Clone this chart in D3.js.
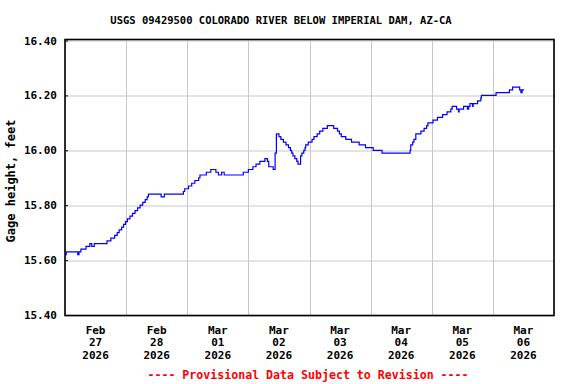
<!DOCTYPE html>
<html>
<head>
<meta charset="utf-8">
<script src="https://cdn.jsdelivr.net/npm/d3@7"></script>
<style>
  body { margin: 0; background: #fff; }
  svg text { font-family: "DejaVu Sans Mono", monospace; font-weight: bold; }
</style>
</head>
<body>
<svg width="576" height="384"></svg>
<script>
var title = "USGS 09429500 COLORADO RIVER BELOW IMPERIAL DAM, AZ-CA";
var yLabel = "Gage height, feet";
var footer = "---- Provisional Data Subject to Revision ----";

var yTicks = [15.40, 15.60, 15.80, 16.00, 16.20, 16.40];
var dayTicks = ["2026-02-27", "2026-02-28", "2026-03-01", "2026-03-02",
                "2026-03-03", "2026-03-04", "2026-03-05", "2026-03-06", "2026-03-07"];

// 15-min gage readings, only the times where the value changes
var times = [
  "2026-02-27 00:00", "2026-02-27 00:30", "2026-02-27 05:00", "2026-02-27 05:30", "2026-02-27 06:15",
  "2026-02-27 08:15", "2026-02-27 09:45", "2026-02-27 10:30", "2026-02-27 11:30", "2026-02-27 16:30",
  "2026-02-27 18:00", "2026-02-27 19:30", "2026-02-27 20:30", "2026-02-27 21:15", "2026-02-27 22:15",
  "2026-02-27 23:00", "2026-02-27 23:45",
  "2026-02-28 00:30", "2026-02-28 01:30", "2026-02-28 02:30", "2026-02-28 03:30", "2026-02-28 04:30",
  "2026-02-28 05:30", "2026-02-28 06:30", "2026-02-28 07:30", "2026-02-28 08:15", "2026-02-28 08:45",
  "2026-02-28 13:45", "2026-02-28 15:00", "2026-02-28 22:30", "2026-02-28 23:00",
  "2026-03-01 00:30", "2026-03-01 01:45", "2026-03-01 03:00", "2026-03-01 04:30", "2026-03-01 05:00",
  "2026-03-01 07:30", "2026-03-01 09:15", "2026-03-01 11:15", "2026-03-01 12:15", "2026-03-01 13:30",
  "2026-03-01 14:30", "2026-03-01 22:00",
  "2026-03-02 00:00", "2026-03-02 01:45", "2026-03-02 03:00", "2026-03-02 04:30", "2026-03-02 06:30",
  "2026-03-02 07:30", "2026-03-02 08:00", "2026-03-02 09:45", "2026-03-02 10:30", "2026-03-02 11:00",
  "2026-03-02 12:00", "2026-03-02 12:45", "2026-03-02 13:45", "2026-03-02 14:45", "2026-03-02 15:45",
  "2026-03-02 16:30", "2026-03-02 17:00", "2026-03-02 17:30", "2026-03-02 18:15", "2026-03-02 19:00",
  "2026-03-02 19:30", "2026-03-02 20:30", "2026-03-02 21:00", "2026-03-02 21:45", "2026-03-02 22:15",
  "2026-03-02 22:30", "2026-03-02 23:30",
  "2026-03-03 01:00", "2026-03-03 01:45", "2026-03-03 03:00", "2026-03-03 04:00", "2026-03-03 05:15",
  "2026-03-03 07:00", "2026-03-03 09:30", "2026-03-03 11:00", "2026-03-03 11:45", "2026-03-03 12:30",
  "2026-03-03 14:15", "2026-03-03 16:30", "2026-03-03 19:30", "2026-03-03 22:00",
  "2026-03-04 01:00", "2026-03-04 04:30", "2026-03-04 15:30", "2026-03-04 15:45", "2026-03-04 16:30",
  "2026-03-04 17:00", "2026-03-04 17:45", "2026-03-04 19:45", "2026-03-04 21:00", "2026-03-04 22:00",
  "2026-03-04 22:30",
  "2026-03-05 00:30", "2026-03-05 02:15", "2026-03-05 04:15", "2026-03-05 06:00", "2026-03-05 07:30",
  "2026-03-05 08:00", "2026-03-05 09:45", "2026-03-05 10:30", "2026-03-05 10:45", "2026-03-05 12:30",
  "2026-03-05 14:00", "2026-03-05 14:30", "2026-03-05 15:00", "2026-03-05 16:00", "2026-03-05 16:15",
  "2026-03-05 18:00", "2026-03-05 19:15", "2026-03-05 19:30",
  "2026-03-06 01:15", "2026-03-06 06:30", "2026-03-06 07:45", "2026-03-06 10:30", "2026-03-06 11:00",
  "2026-03-06 11:30", "2026-03-06 12:15"
];
var heights = [
  15.62, 15.63, 15.62, 15.63, 15.64,
  15.65, 15.66, 15.65, 15.66, 15.67,
  15.68, 15.69, 15.70, 15.71, 15.72,
  15.73, 15.74,
  15.75, 15.76, 15.77, 15.78, 15.79,
  15.80, 15.81, 15.82, 15.83, 15.84,
  15.83, 15.84, 15.85, 15.86,
  15.87, 15.88, 15.89, 15.90, 15.91,
  15.92, 15.93, 15.92, 15.91, 15.92,
  15.91, 15.92,
  15.93, 15.94, 15.95, 15.96, 15.97,
  15.96, 15.94, 15.93, 15.99, 16.06,
  16.05, 16.04, 16.03, 16.02, 16.01,
  16.00, 15.99, 15.98, 15.97, 15.96,
  15.95, 15.98, 15.99, 16.00, 16.01,
  16.02, 16.03,
  16.04, 16.05, 16.06, 16.07, 16.08,
  16.09, 16.08, 16.07, 16.06, 16.05,
  16.04, 16.03, 16.02, 16.01,
  16.00, 15.99, 16.00, 16.02, 16.03,
  16.04, 16.06, 16.07, 16.08, 16.09,
  16.10,
  16.11, 16.12, 16.13, 16.14, 16.15,
  16.16, 16.15, 16.14, 16.15, 16.16,
  16.15, 16.16, 16.17, 16.16, 16.17,
  16.18, 16.19, 16.20,
  16.21, 16.22, 16.23, 16.22, 16.21,
  16.22, 16.22
];

var svg = d3.select("svg"),
    margin = {top: 40.5, right: 22, bottom: 69, left: 65},
    width = svg.attr("width") - margin.left - margin.right,
    height = svg.attr("height") - margin.top - margin.bottom,
    g = svg.append("g").attr("transform", "translate(" + margin.left + "," + margin.top + ")");

var parseTime = d3.timeParse("%Y-%m-%d %H:%M"),
    parseDay = d3.timeParse("%Y-%m-%d");

var data = times.map(function(t, i) { return {date: parseTime(t), value: heights[i]}; });
var days = dayTicks.map(parseDay);

var x = d3.scaleTime().domain([days[0], days[days.length - 1]]).range([0, width]),
    y = d3.scaleLinear().domain([15.4, 16.4]).range([height, 0]);

// grid
g.append("g")
    .selectAll("line")
    .data(days)
    .enter().append("line")
    .attr("x1", function(d) { return Math.round(x(d)) + 0.5; })
    .attr("x2", function(d) { return Math.round(x(d)) + 0.5; })
    .attr("y1", 0)
    .attr("y2", height)
    .attr("stroke", "#c8c8c8");

g.append("g")
    .selectAll("line")
    .data(yTicks)
    .enter().append("line")
    .attr("x1", 0)
    .attr("x2", width)
    .attr("y1", function(d) { return Math.round(y(d)) + 0.5; })
    .attr("y2", function(d) { return Math.round(y(d)) + 0.5; })
    .attr("stroke", "#c8c8c8");

// y axis labels, ticks point inward
var yAxis = g.append("g")
    .call(d3.axisLeft(y).tickValues(yTicks).tickFormat(d3.format(".2f")).tickSizeInner(-3).tickSizeOuter(0).tickPadding(8));
yAxis.select(".domain").remove();
yAxis.selectAll("text")
    .style("font-size", "11px")
    .attr("fill", "#000");

// x axis: day labels centered at noon
var noon = days.slice(0, days.length - 1).map(function(d) { return d3.timeHour.offset(d, 12); });
var fmtMon = d3.timeFormat("%b"), fmtDay = d3.timeFormat("%d"), fmtYear = d3.timeFormat("%Y");

var xl = g.append("g")
    .selectAll("text")
    .data(noon)
    .enter().append("text")
    .attr("text-anchor", "middle")
    .attr("transform", function(d) { return "translate(" + x(d) + "," + (height + 18.5) + ")"; })
    .style("font-size", "11px");
xl.append("tspan").attr("x", 0).attr("y", 0).text(fmtMon);
xl.append("tspan").attr("x", 0).attr("y", 12.6).text(fmtDay);
xl.append("tspan").attr("x", 0).attr("y", 25.2).text(fmtYear);

// data line
var line = d3.line()
    .curve(d3.curveStepAfter)
    .x(function(d) { return x(d.date); })
    .y(function(d) { return y(d.value); });

g.append("path")
    .datum(data)
    .attr("fill", "none")
    .attr("stroke", "#0000ff")
    .attr("stroke-width", 1.2)
    .attr("d", line);

// frame
g.append("rect")
    .attr("x", 0)
    .attr("y", -1)
    .attr("width", width)
    .attr("height", height + 1.5)
    .attr("fill", "none")
    .attr("stroke", "#000")
    .attr("stroke-width", 1.6);

svg.append("text")
    .attr("x", 281)
    .attr("y", 24)
    .attr("text-anchor", "middle")
    .style("font-size", "10.5px")
    .text(title);

svg.append("text")
    .attr("transform", "translate(15,181) rotate(-90)")
    .attr("text-anchor", "middle")
    .style("font-size", "12px")
    .text(yLabel);

svg.append("text")
    .attr("x", 308)
    .attr("y", 378.5)
    .attr("text-anchor", "middle")
    .attr("fill", "#ff0000")
    .style("font-size", "11.6px")
    .text(footer);
</script>
</body>
</html>
